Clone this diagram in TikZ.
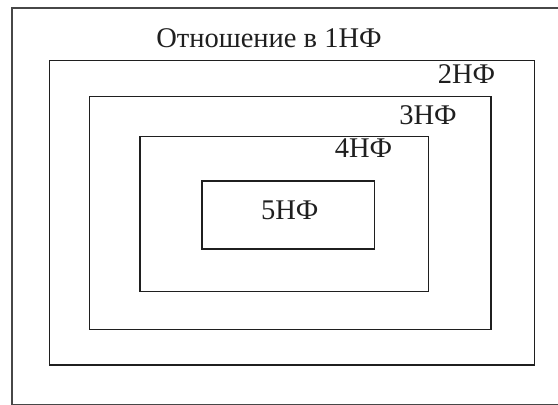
\documentclass[tikz,border=0pt]{standalone}
\usepackage{fontspec}
\setmainfont{Liberation Serif}
\tikzset{
  box/.style={draw=black!88, line width=1.8pt},
  outerbox/.style={draw=black!72, line width=1.9pt},
  lbl/.style={anchor=base, inner sep=0pt, font=\fontsize{28.5}{28.5}\selectfont, text=black!88}
}
\begin{document}
\begin{tikzpicture}[x=1pt,y=-1pt]
\useasboundingbox (0,0) rectangle (558,405);
\fill[white] (0,0) rectangle (558,405);
\begin{scope}
\clip (0,0) rectangle (558,405);
\draw[outerbox] (12,8) rectangle (575,405);
\draw[box] (49.5,60.5) rectangle (534.5,365);
\draw[box] (89.5,96.5) rectangle (491,329.5);
\draw[box] (140,136.5) rectangle (428.5,291.5);
\draw[box] (202,181) rectangle (374.5,249);
\end{scope}
\node[lbl] (t1) at (269,47.5) {Отношение в 1НФ};
\node[lbl] (t2) at (466.5,83) {2НФ};
\node[lbl] (t3) at (428,124) {3НФ};
\node[lbl] (t4) at (363.5,157) {4НФ};
\node[lbl] (t5) at (289.7,219.5) {5НФ};
\end{tikzpicture}
\end{document}
